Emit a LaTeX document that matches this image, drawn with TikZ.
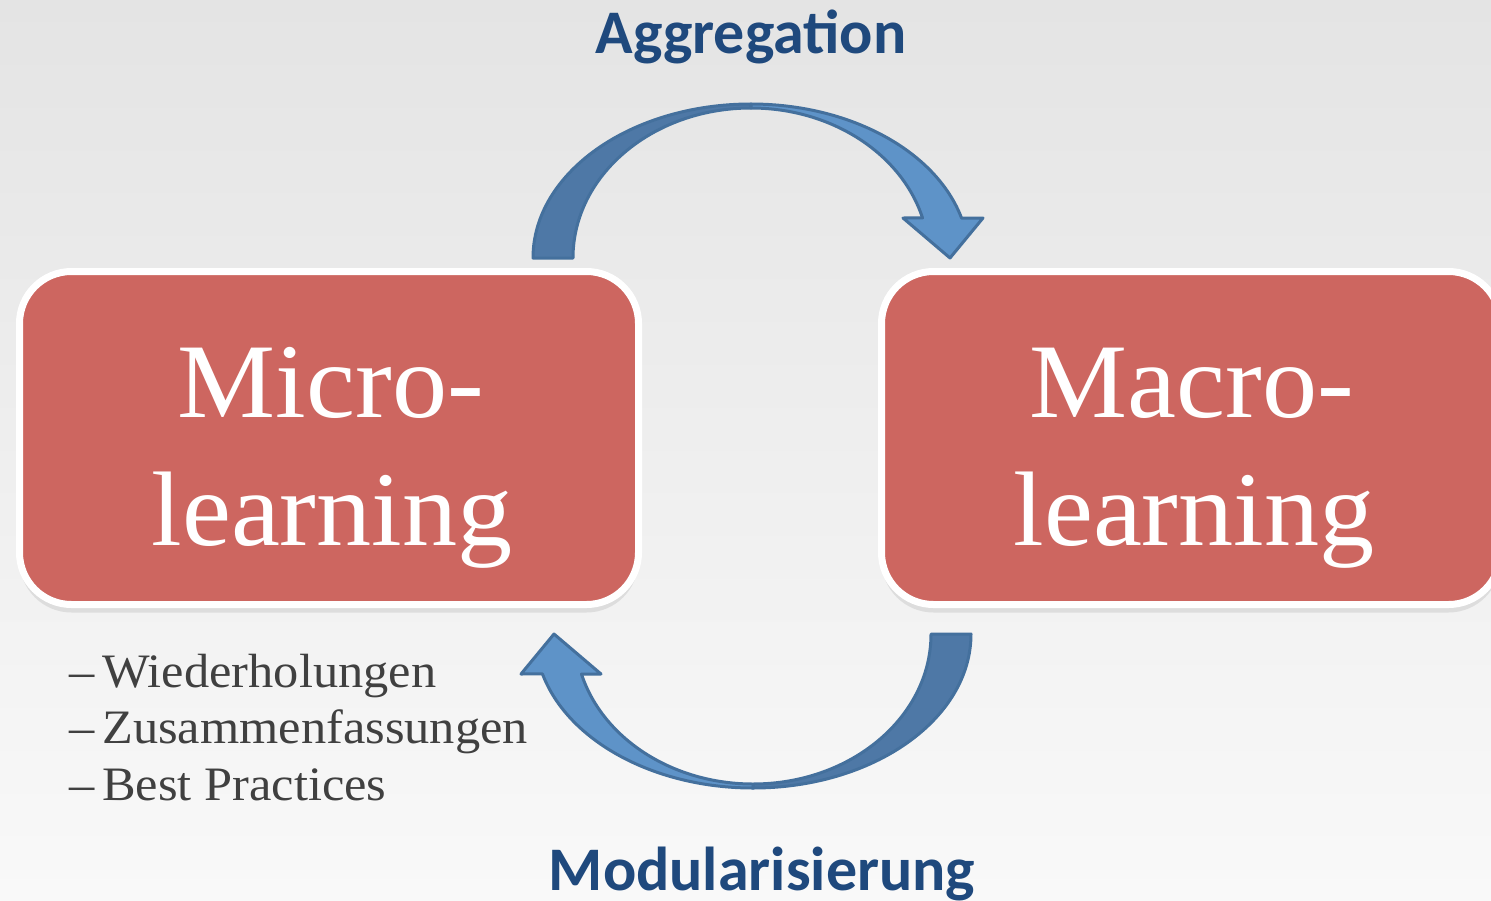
\documentclass[tikz,border=0pt]{standalone}
\usepackage{fontspec}
\newfontfamily\boxfont[FakeStretch=1.04]{Liberation Serif}
\newfontfamily\listfont[FakeStretch=1.05]{Liberation Serif}
\newfontfamily\headfont{Carlito}
\usetikzlibrary{shadows}

\definecolor{bgtop}{RGB}{228,228,228}
\definecolor{bgbottom}{RGB}{249,249,249}
\definecolor{boxred}{RGB}{205,102,96}
\definecolor{headblue}{RGB}{31,73,125}
\definecolor{listgray}{RGB}{64,64,64}
\definecolor{benddark}{RGB}{78,120,166}
\definecolor{bendlight}{RGB}{94,147,200}
\definecolor{bendline}{RGB}{68,112,157}

% curved block arrow, drawn around the centre of its ring
\newcommand{\bendarrow}{%
  \filldraw[bendedge, fill=benddark] (180:218 and 154)
    arc[start angle=180, end angle=270, x radius=218, y radius=154] -- (0,-150)
    arc[start angle=270, end angle=180, x radius=178, y radius=150] -- cycle;
  \filldraw[bendedge, fill=bendlight] (0,-154)
    arc[start angle=270, end angle=345, x radius=218, y radius=154]
    -- (232,-40) -- (199,0) -- (152,-40) -- (344.5:178 and 150)
    arc[start angle=344.5, end angle=270, x radius=178, y radius=150] -- cycle;
}

\begin{document}
\begin{tikzpicture}[x=1pt, y=-1pt]
    \tikzset{
      learnbox/.style={draw=white, line width=7pt, fill=boxred, rounded corners=52pt,
        minimum width=619pt, minimum height=333pt, inner sep=0pt,
        drop shadow={opacity=0.18, shadow xshift=0pt, shadow yshift=-8pt}},
      boxtext/.style={text=white, inner sep=0pt, anchor=base,
        font=\boxfont\fontsize{106}{128}\selectfont},
      headtext/.style={text=headblue, inner sep=0pt, anchor=base,
        font=\headfont\bfseries\fontsize{62}{74}\selectfont},
      listtext/.style={text=listgray, inner sep=0pt, anchor=base west,
        font=\listfont\fontsize{48}{57}\selectfont},
      bendedge/.style={draw=bendline, line width=3pt, line join=round}
    }
    \clip (0,0) rectangle (1491,900);
    \shade[top color=bgtop, bottom color=bgbottom] (0,0) rectangle (1491,900);

    \node[learnbox] (micro) at (329,438) {};
    \node[learnbox] (macro) at (1191,438) {};
    \node[boxtext] (microtop) at (331,417) {Micro-};
    \node[boxtext] (microbot) at (332,545) {learning};
    \node[boxtext] (macrotop) at (1192,417) {Macro-};
    \node[boxtext] (macrobot) at (1194,545) {learning};

    \node[headtext] (aggr) at (751,53) {Aggregation};
    \node[headtext] (modul) at (762,890) {Modularisierung};

    \foreach \n/\txt/\y in {1/Wiederholungen/687, 2/Zusammenfassungen/743.5, 3/Best Practices/800}
      \node[listtext] (item\n) at (69,\y) {–\hspace{8pt}\txt};

    \begin{scope}[shift={(751,258)}]
      \bendarrow
    \end{scope}
    \begin{scope}[shift={(753,634)}, rotate=180]
      \bendarrow
    \end{scope}
\end{tikzpicture}
\end{document}
